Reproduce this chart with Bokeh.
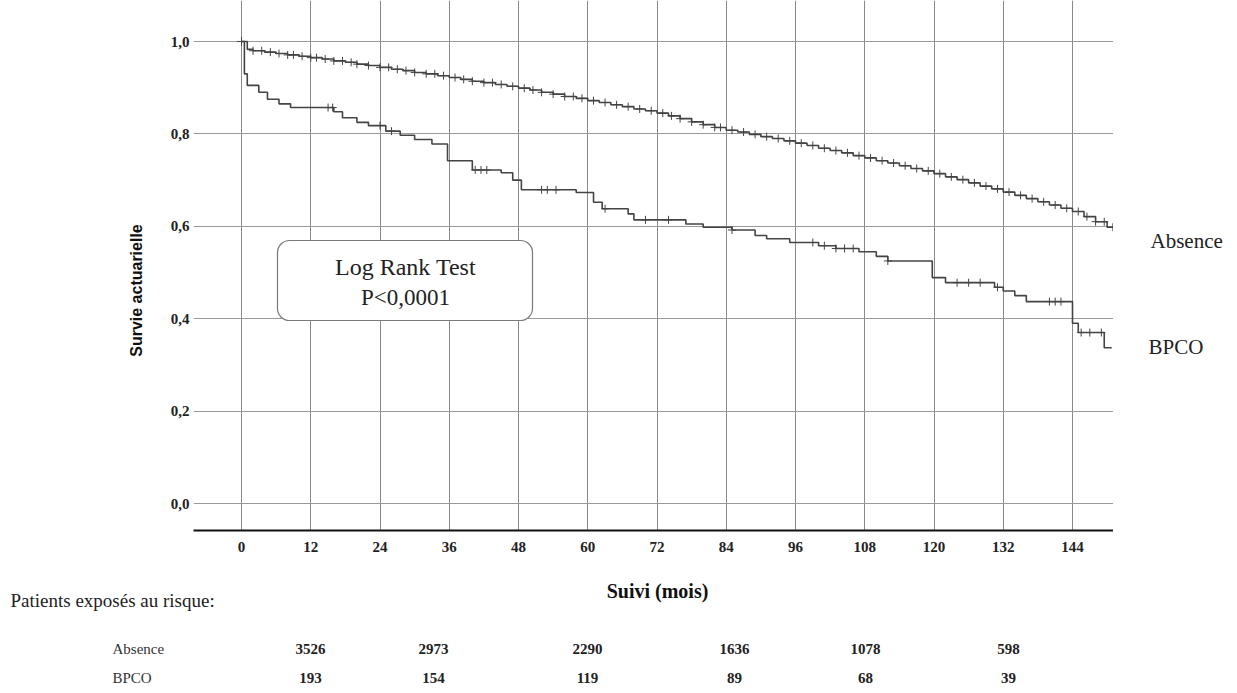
import numpy as np
from bokeh.plotting import figure
from bokeh.layouts import row, column
from bokeh.models import Range1d, FixedTicker, CustomJSTickFormatter, Label, BoxAnnotation
from bokeh.core.properties import value
from bokeh.embed import file_html
from bokeh.resources import INLINE

# ---------------- data ----------------
abs_t = [0, 1, 2, 4, 6, 8, 10, 12, 14, 16, 18, 20, 22, 24, 26, 28, 30, 32, 34, 36, 38, 40,
         42, 44, 46, 48, 50, 52, 54, 56, 58, 60, 62, 64, 66, 68, 70, 72, 74, 76, 78, 80, 82,
         84, 86, 88, 90, 92, 94, 96, 98, 100, 102, 104, 106, 108, 110, 112, 114, 116, 118,
         120, 122, 124, 126, 128, 130, 132, 134, 136, 138, 140, 142, 144, 146, 148, 150]
abs_s = [1.0, 0.983, 0.980, 0.977, 0.974, 0.971, 0.968, 0.965, 0.962, 0.958, 0.955, 0.951,
         0.948, 0.944, 0.940, 0.937, 0.933, 0.930, 0.926, 0.922, 0.918, 0.914, 0.911, 0.907,
         0.903, 0.899, 0.895, 0.890, 0.886, 0.881, 0.877, 0.872, 0.868, 0.863, 0.859, 0.854,
         0.850, 0.845, 0.839, 0.833, 0.826, 0.820, 0.814, 0.808, 0.804, 0.799, 0.794, 0.790,
         0.785, 0.780, 0.775, 0.769, 0.764, 0.759, 0.753, 0.748, 0.742, 0.737, 0.731, 0.725,
         0.720, 0.714, 0.707, 0.701, 0.694, 0.687, 0.681, 0.674, 0.667, 0.660, 0.653, 0.646,
         0.639, 0.632, 0.621, 0.610, 0.598]
abs_end = 151.5
abs_cens = [2, 3.5, 5, 6.5, 8, 9, 10.5, 12, 13, 14.5, 16, 17.5, 19, 20, 22, 24, 25.5, 27, 28.5,
            30, 32, 33.5, 35, 37, 38.5, 40, 42, 43.5, 45, 47, 49, 50.5, 52, 54, 56, 57.5, 59,
            61, 63, 65, 67, 69, 71, 73, 74.5, 76, 78, 80, 82, 83, 85, 87, 89, 91, 93, 95, 97,
            99, 101, 103, 105, 107, 109, 111, 113, 115, 117, 119, 121, 123, 125, 127, 129, 131,
            133, 135, 137, 139, 141, 143, 145, 146.5, 148, 149.5, 151]

bpco_t = [0, 0.5, 1.0, 3, 4.5, 6.5, 8.5, 16, 17.5, 20, 22, 25, 27.5, 30, 33, 35.7, 40, 45, 47,
          48.5, 58, 61, 62.5, 67, 68, 77, 80, 85, 89, 91, 95, 100, 103, 107, 110, 112, 119.7,
          122, 130.5, 132, 134, 136, 144, 145, 149.5]
bpco_s = [1.0, 0.93, 0.905, 0.89, 0.875, 0.865, 0.857, 0.848, 0.835, 0.825, 0.818, 0.806,
          0.797, 0.788, 0.778, 0.742, 0.722, 0.716, 0.70, 0.679, 0.673, 0.652, 0.638, 0.627,
          0.614, 0.605, 0.598, 0.592, 0.580, 0.573, 0.565, 0.558, 0.552, 0.545, 0.535, 0.525,
          0.489, 0.478, 0.468, 0.460, 0.450, 0.437, 0.39, 0.37, 0.337]
bpco_end = 150.8
bpco_cens = [15, 15.8, 24, 26, 40.5, 41.5, 42.5, 52, 53, 54.5, 63, 70, 74, 85, 99, 101, 103,
             104.5, 106, 112, 124, 126, 128, 131, 140, 141, 142, 145.5, 147, 149]

x_ticks = [0, 12, 24, 36, 48, 60, 72, 84, 96, 108, 120, 132, 144]
y_ticks = [0.0, 0.2, 0.4, 0.6, 0.8, 1.0]

risk_groups = ["Absence", "BPCO"]
risk_absence = ["3526", "2973", "2290", "1636", "1078", "598"]
risk_bpco = ["193", "154", "119", "89", "68", "39"]

# ---------------- layout helpers (pixel -> data) ----------------
PX0, PXM = 241.0, 69.25 / 12.0   # x pixel of month 0, pixels per month
PY1, PYU = 41.0, 462.0           # y pixel of survival 1.0, pixels per unit


def dx(px):
    return (px - PX0) / PXM


def dy(py):
    return 1.0 - (py - PY1) / PYU


SERIF = "Liberation Serif"
W, H = 1237, 693
TOP_H = 578          # height of the upper row (plot + tick labels)
FRAME_B = 530        # bottom of the plotting frame
LEFT_W = 150         # left strip (y title)
RIGHT_W = 124        # right strip (curve names)
MAIN_W = W - LEFT_W - RIGHT_W


def blank(width, height, y_span=None):
    f = figure(width=width, height=height, output_backend="svg", toolbar_location=None,
               x_axis_type=None, y_axis_type=None,
               x_range=Range1d(0, width), y_range=Range1d(y_span or height, 0),
               min_border=0, min_border_left=0, min_border_right=0,
               min_border_top=0, min_border_bottom=0)
    f.outline_line_color = None
    return f


# ---------------- main plot ----------------
p = figure(width=MAIN_W, height=TOP_H, output_backend="svg", toolbar_location=None,
           x_range=Range1d(dx(193), dx(1113)), y_range=Range1d(dy(FRAME_B), dy(0)),
           min_border_left=193 - LEFT_W, min_border_right=0, min_border_top=0,
           min_border_bottom=TOP_H - FRAME_B)
p.outline_line_color = None

p.xaxis.ticker = FixedTicker(ticks=x_ticks)
p.yaxis.ticker = FixedTicker(ticks=y_ticks)
p.yaxis.formatter = CustomJSTickFormatter(code="return tick.toFixed(1).replace('.', ',');")
for ax in (p.xaxis, p.yaxis):
    ax.major_tick_line_color = None
    ax.minor_tick_line_color = None
    ax.major_tick_out = 0
    ax.major_label_text_font = SERIF
    ax.major_label_text_font_style = "bold"
    ax.major_label_text_font_size = "15px"
    ax.major_label_text_color = "#222222"
p.yaxis.axis_line_color = None
p.yaxis.major_label_standoff = 4
p.xaxis.axis_line_color = "#111111"
p.xaxis.axis_line_width = 2
p.xaxis.major_label_standoff = 11

p.xgrid.ticker = FixedTicker(ticks=x_ticks)
p.ygrid.ticker = FixedTicker(ticks=y_ticks)
p.xgrid.grid_line_color = "#8a8a8a"
p.ygrid.grid_line_color = "#9a9a9a"


def surv_at(times, survs, t):
    idx = np.searchsorted(np.array(times), np.array(t), side="right") - 1
    return np.array(survs)[idx]


for t, s, end, cens in ((abs_t, abs_s, abs_end, abs_cens), (bpco_t, bpco_s, bpco_end, bpco_cens)):
    xs = list(t) + [end]
    ys = list(s) + [s[-1]]
    p.step(xs, ys, mode="after", line_color="#444444", line_width=1.6)
    p.scatter(cens, surv_at(t, s, cens), marker="cross", size=8, line_color="#444444",
              line_width=1)
p.scatter([abs_t[0]], [abs_s[0]], marker="cross", size=9, line_color="#444444", line_width=1)

# log-rank box
p.add_layout(BoxAnnotation(left=dx(277), right=dx(532), top=dy(240), bottom=dy(320),
                           fill_color="white", fill_alpha=1.0, line_color="#7a7a7a",
                           line_alpha=1.0, line_width=1.2, border_radius=12, level="overlay"))
p.add_layout(Label(x=dx(405), y=dy(266), text="Log Rank Test", text_align="center",
                   text_baseline="middle", text_font=SERIF, text_font_size="24px",
                   text_color="#222222", level="overlay"))
p.add_layout(Label(x=dx(405), y=dy(297), text="P<0,0001", text_align="center",
                   text_baseline="middle", text_font=SERIF, text_font_size="23px",
                   text_color="#222222", level="overlay"))

# ---------------- left strip: y title (frame aligned with main plot) ----------------
left = blank(LEFT_W, TOP_H, y_span=FRAME_B)
left.text(x=[136], y=[290], text=["Survie actuarielle"], angle=np.pi / 2,
          text_align="center", text_baseline="middle", text_font=value("Liberation Sans"),
          text_font_style="bold", text_font_size="16px", text_color="#111111")

# ---------------- right strip: curve names ----------------
right = blank(RIGHT_W, TOP_H, y_span=FRAME_B)
right.text(x=[1150 - (W - RIGHT_W), 1148 - (W - RIGHT_W)], y=[240, 346], text=risk_groups,
           text_align="left", text_baseline="middle", text_font=value(SERIF),
           text_font_size="21px", text_color="#222222")

# ---------------- bottom strip: x title + at-risk table ----------------
BOT_H = H - TOP_H
bot = blank(W, BOT_H)
bot.text(x=[657], y=[590 - TOP_H], text=["Suivi (mois)"], text_align="center",
         text_baseline="middle", text_font=value(SERIF), text_font_style="bold",
         text_font_size="20px", text_color="#111111")
bot.text(x=[10], y=[600 - TOP_H], text=["Patients exposés au risque:"], text_align="left",
         text_baseline="middle", text_font=value(SERIF), text_font_size="19px",
         text_color="#222222")
col_px = [310, 433, 587, 734, 865, 1008]
row_py = [648 - TOP_H, 677 - TOP_H]
bot.text(x=[112, 112], y=row_py, text=risk_groups, text_align="left", text_baseline="middle",
         text_font=value(SERIF), text_font_size="15px", text_color="#333333")
for ry, vals in zip(row_py, (risk_absence, risk_bpco)):
    bot.text(x=col_px, y=[ry] * len(vals), text=vals, text_align="center",
             text_baseline="middle", text_font=value(SERIF), text_font_style="bold",
             text_font_size="15px", text_color="#222222")

layout = column(row(left, p, right, spacing=0), bot, spacing=0)
open("out.html", "w").write(file_html(layout, INLINE))
